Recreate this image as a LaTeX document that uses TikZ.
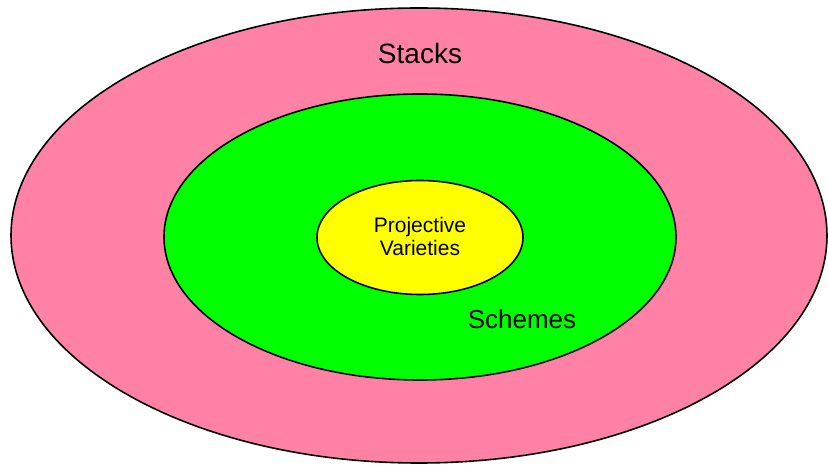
\documentclass[tikz,border=0pt]{standalone}
\usepackage{fontspec}
\setmainfont{Liberation Sans}
\usetikzlibrary{shapes.geometric}
\definecolor{stackpink}{RGB}{255,130,166}
\definecolor{schemegreen}{RGB}{0,255,0}
\definecolor{pvyellow}{RGB}{255,255,0}
\begin{document}
\begin{tikzpicture}[x=1pt,y=-1pt,
  region/.style={ellipse, draw=black, line width=1.6pt, inner sep=0pt},
  lbl/.style={anchor=base, inner sep=0pt, text=black}]
\useasboundingbox (0,0) rectangle (828,465);
\node[region, fill=stackpink, minimum width=816pt, minimum height=455pt] (stacks) at (419,235.5) {};
\node[region, fill=schemegreen, minimum width=512pt, minimum height=286pt] (schemes) at (420,237) {};
\node[region, fill=pvyellow, minimum width=206pt, minimum height=114pt] (pv) at (420,237.5) {};
\node[lbl, font=\fontsize{28}{32}\selectfont] (tstacks) at (420,64) {Stacks};
\node[lbl, font=\fontsize{26}{30}\selectfont] (tschemes) at (522,328) {Schemes};
\node[lbl, font=\fontsize{21}{23}\selectfont] (tproj) at (420,233) {Projective};
\node[lbl, font=\fontsize{21}{23}\selectfont] (tvar) at (420,256) {Varieties};
\end{tikzpicture}
\end{document}
